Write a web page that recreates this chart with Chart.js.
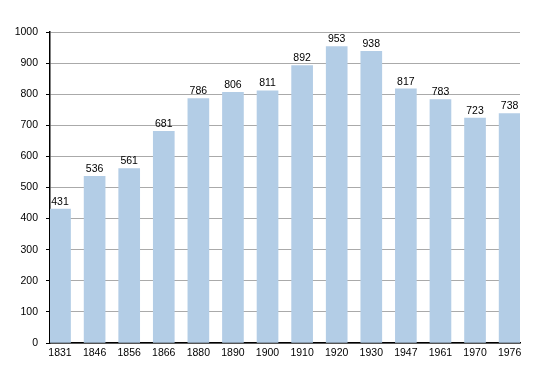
<!DOCTYPE html>
<html>
<head>
<meta charset="utf-8">
<script src="https://cdn.jsdelivr.net/npm/chart.js@4"></script>
<style>
  html, body { margin: 0; padding: 0; background: #fff; }
  #wrap { width: 550px; height: 373px; }
</style>
</head>
<body>
<div id="wrap"><canvas id="grafico"></canvas></div>
<script>
// Datos del gráfico
const years = ['1831', '1846', '1856', '1866', '1880', '1890', '1900', '1910', '1920', '1930', '1947', '1961', '1970', '1976'];
const population = [431, 536, 561, 681, 786, 806, 811, 892, 953, 938, 817, 783, 723, 738];
const yMax = 1000;

// Etiquetas de valor encima de cada barra
const valueLabels = {
  id: 'valueLabels',
  afterDatasetsDraw(chart) {
    const ctx = chart.ctx;
    const meta = chart.getDatasetMeta(0);
    ctx.save();
    ctx.font = '10.5px "Liberation Sans", Arial, sans-serif';
    ctx.fillStyle = '#000';
    ctx.textAlign = 'center';
    ctx.textBaseline = 'bottom';
    meta.data.forEach((bar, i) => {
      ctx.fillText(population[i], bar.x, bar.y - 2);
    });
    ctx.restore();
  }
};

Chart.defaults.font.family = '"Liberation Sans", Arial, sans-serif';
Chart.defaults.font.size = 10.5;
Chart.defaults.color = '#000';

new Chart(document.getElementById('grafico'), {
  type: 'bar',
  data: {
    datasets: [{
      data: population.map((v, i) => ({ x: i, y: v })),
      backgroundColor: '#b3cde6',
      borderWidth: 0,
      barThickness: 21
    }]
  },
  options: {
    responsive: true,
    maintainAspectRatio: false,
    animation: false,
    layout: { padding: { left: 0, right: 30, top: 32, bottom: 0 } },
    plugins: {
      legend: { display: false },
      tooltip: { enabled: false }
    },
    scales: {
      x: {
        type: 'linear',
        offset: false,
        min: -0.29,
        max: 13.3,
        afterBuildTicks: scale => {
          scale.ticks = years.map((_, i) => ({ value: i }));
        },
        afterFit: scale => { scale.height = 30; },
        ticks: {
          autoSkip: false,
          maxRotation: 0,
          padding: -4,
          callback: v => years[v]
        },
        grid: { display: false },
        border: { color: '#000', width: 1.5 }
      },
      y: {
        min: 0,
        max: yMax,
        afterFit: scale => { scale.width = 50; },
        ticks: {
          stepSize: 50,
          padding: 8,
          callback: v => (v % 100 === 0 ? v : '')
        },
        grid: {
          color: c => (c.tick && c.tick.value % 100 === 0 ? '#aaaaaa' : '#e2e2e2'),
          tickColor: '#000',
          tickLength: 4
        },
        border: { color: '#000', width: 1.5 }
      }
    }
  },
  plugins: [valueLabels]
});
</script>
</body>
</html>
